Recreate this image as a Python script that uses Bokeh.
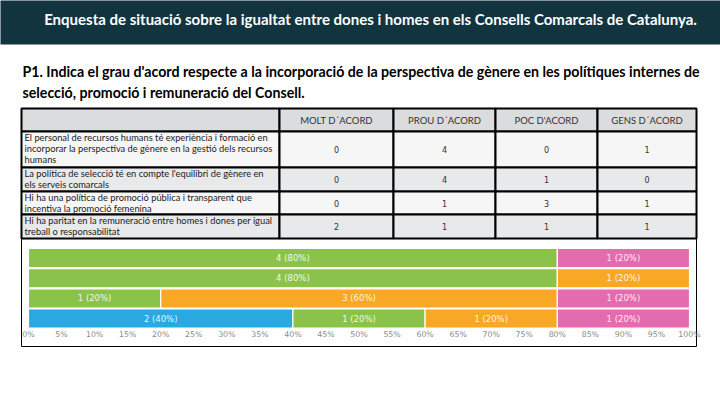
from bokeh.plotting import figure
from bokeh.models import Range1d, ColumnDataSource
from bokeh.core.properties import value
from bokeh.embed import file_html
from bokeh.resources import INLINE

# ---------------- data ----------------
title = "Enquesta de situació sobre la igualtat entre dones i homes en els Consells Comarcals de Catalunya."
question = ("P1. Indica el grau d'acord respecte a la incorporació de la perspectiva de gènere en les polítiques internes de\n"
            "selecció, promoció i remuneració del Consell.")
categories = ["MOLT D´ACORD", "PROU D´ACORD", "POC D'ACORD", "GENS D´ACORD"]
questions = [
    "El personal de recursos humans té experiència i formació en\nincorporar la perspectiva de gènere en la gestió dels recursos\nhumans",
    "La política de selecció té en compte l'equilibri de gènere en\nels serveis comarcals",
    "Hi ha una política  de promoció pública i transparent que\nincentiva la promoció femenina",
    "Hi ha paritat en la remuneració entre homes i dones per igual\ntreball o responsabilitat",
]
molt = [0, 0, 0, 2]
prou = [4, 4, 1, 1]
poc = [0, 1, 3, 1]
gens = [1, 0, 1, 1]
series = [molt, prou, poc, gens]
colors = ["#29A9E0", "#8BC34A", "#F9A825", "#E36BAE"]
tick_values = list(range(0, 101, 5))
tick_labels = [f"{t}%" for t in tick_values]

# ---------------- layout ----------------
W, H = 720, 405
FONT = value("Lato")

col_edges = [21, 279, 393, 495, 597, 696]
row_edges = [108, 131, 167, 191, 214, 238]
row_fills = ["#DADCDE", "#F6F6F6", "#E7E9EA", "#F6F6F6", "#E7E9EA"]

p = figure(width=W, height=H, output_backend="svg", toolbar_location=None,
           x_range=Range1d(0, W), y_range=Range1d(H, 0), min_border=0,
           outline_line_color=None, background_fill_color="white")
p.axis.visible = False
p.grid.visible = False

# header bar
p.quad(left=[-10], right=[W + 10], top=[-10], bottom=[44], fill_color="#12343F", line_color=None)
p.text(x=[370], y=[18], text=[title], text_color="white", text_font=FONT,
       text_font_style="bold", text_font_size="15px", text_align="center", text_baseline="middle")

# question
p.text(x=[22], y=[62], text=[question], text_color="black", text_font=FONT,
       text_font_style="bold", text_font_size="14.2px", text_align="left", text_baseline="top",
       text_line_height=1.27)

# table cells
ls, rs, ts, bs, fs = [], [], [], [], []
for r in range(5):
    for c in range(5):
        ls.append(col_edges[c]); rs.append(col_edges[c + 1])
        ts.append(row_edges[r]); bs.append(row_edges[r + 1])
        fs.append(row_fills[r])
p.quad(left=ls, right=rs, top=ts, bottom=bs, fill_color=fs, line_color="black", line_width=2)

# header labels
hx = [(col_edges[i + 1] + col_edges[i + 2]) / 2 for i in range(4)]
hy = [(row_edges[0] + row_edges[1]) / 2] * 4
p.text(x=hx, y=hy, text=categories, text_color="#333333", text_font=FONT,
       text_font_size="9.5px", text_align="center", text_baseline="middle")

# row labels and values
for r in range(4):
    p.text(x=[col_edges[0] + 3], y=[row_edges[r + 1] + 0.5], text=[questions[r]], text_color="#222222",
           text_font=FONT, text_font_size="9.3px", text_align="left",
           text_baseline="top", text_line_height=1.02)
    cy = (row_edges[r + 1] + row_edges[r + 2]) / 2
    p.text(x=hx, y=[cy] * 4, text=[str(s[r]) for s in series], text_color="#333333",
           text_font=value("DejaVu Sans"), text_font_size="8px", text_align="center", text_baseline="middle")

# chart box
p.multi_line(xs=[[21, 21, 696, 696]], ys=[[238, 346, 346, 238]], line_color="black", line_width=1)

# ---------------- stacked bar chart through its own ranges ----------------
px0, px100 = 28, 689
k = (px100 - px0) / 100.0
p.extra_x_ranges = {"pct": Range1d(start=-px0 / k, end=100 + (W - px100) / k)}
c0, dy = 257.5, 20.2
p.extra_y_ranges = {"row": Range1d(start=(H - c0) / dy, end=-c0 / dy)}

totals = [sum(s[r] for s in series) for r in range(4)]
lefts = [0.0] * 4
for si, s in enumerate(series):
    L, R, Yc, txt, tx = [], [], [], [], []
    for r in range(4):
        pct = s[r] / totals[r] * 100
        if s[r] > 0:
            L.append(lefts[r]); R.append(lefts[r] + pct); Yc.append(r)
            txt.append(f"{s[r]} ({pct:.0f}%)"); tx.append(lefts[r] + pct / 2)
        lefts[r] += pct
    src = ColumnDataSource(dict(left=L, right=R, y=Yc, txt=txt, tx=tx))
    p.hbar(y="y", left="left", right="right", height=0.95, source=src, fill_color=colors[si],
           line_color="white", line_width=1.2, x_range_name="pct", y_range_name="row")
    p.text(x="tx", y="y", text="txt", source=src, text_color="white", text_alpha=0.9,
           text_font=value("DejaVu Sans"), text_font_size="8.5px", text_align="center",
           text_baseline="middle", x_range_name="pct", y_range_name="row")

# tick labels
p.text(x=tick_values, y=[3.8] * len(tick_values), text=tick_labels, text_color="#8A8A8A",
       text_font=value("DejaVu Sans"), text_font_size="7.8px", text_align="center",
       text_baseline="middle", x_range_name="pct", y_range_name="row")

open("out.html", "w").write(file_html(p, INLINE))
